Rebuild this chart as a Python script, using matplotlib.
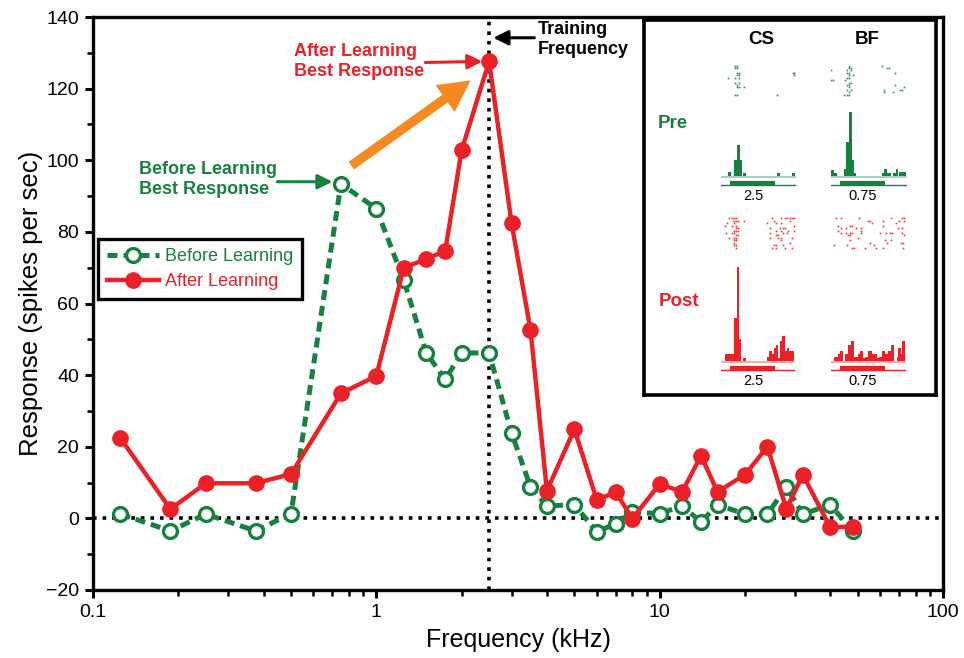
import matplotlib
matplotlib.use('Agg')
import matplotlib.pyplot as plt
from matplotlib.ticker import MultipleLocator, LogLocator, NullFormatter

plt.rcParams['font.family'] = ['Liberation Sans', 'DejaVu Sans']

# tuning curve data (kHz, spikes/s)
freq = [0.125, 0.1875, 0.25, 0.375, 0.5, 0.75, 1, 1.25, 1.5, 1.75, 2, 2.5, 3, 3.5,
        4, 5, 6, 7, 8, 10, 12, 14, 16, 20, 24, 28, 32, 40, 48]
before = [1.2, -3.5, 1.2, -3.5, 1.3, 93.4, 86.5, 66.5, 46.2, 38.8, 46.2, 46.2, 23.9, 8.8,
          3.5, 3.8, -3.7, -1.5, 1.8, 1.3, 3.5, -1, 3.8, 1.2, 1.2, 8.8, 1.2, 3.8, -3.5]
after = [22.4, 2.6, 9.8, 9.8, 12.4, 34.9, 39.8, 70.0, 72.4, 74.7, 102.8, 127.6, 82.5, 52.6,
         7.7, 24.9, 5.1, 7.4, -0.1, 9.6, 7.4, 17.5, 7.4, 12.2, 20.0, 2.6, 12.2, -2.5, -2.3]
training_freq = 2.5

# inset PSTHs (bin edges in time units, counts)
pre_cs_edges = [0, 2.0, 3.0, 4.0, 4.7, 5.6, 6.2, 6.6, 7.6, 16.7, 17.6, 21.3, 22.2]
pre_cs_counts = [0, 4, 0, 16, 31, 16, 0, 3, 0, 3, 0, 3]
pre_bf_edges = [0, 1.0, 1.7, 4.0, 4.5, 5.4, 6.2, 6.8, 7.5, 15.2, 15.9, 16.7, 18.0, 18.7,
                19.4, 20.1, 20.4, 22.5]
pre_bf_counts = [6, 3, 0, 7, 34, 64, 16, 3, 0, 3, 7, 3, 0, 3, 7, 0, 4]
post_cs_edges = [0, 1.2, 3.9, 4.7, 5.4, 6.0, 6.5, 7.5, 13.7, 14.4, 15.2, 15.8, 16.5, 17.2,
                 17.7, 18.4, 19.1, 19.7, 20.5, 21.9]
post_cs_counts = [0, 7, 43, 94, 22, 0, 3, 0, 4, 10, 7, 13, 16, 3, 20, 25, 10, 13, 10]
post_bf_edges = [0, 0.9, 2.0, 2.7, 3.7, 4.2, 5.2, 6.0, 7.0, 8.0, 8.7, 9.7, 10.2, 11.2, 12.2,
                 13.7, 14.4, 15.2, 16.2, 17.2, 18.0, 18.9, 19.7, 20.2, 21.0, 21.4, 22.2]
post_bf_counts = [0, 4, 7, 10, 0, 7, 16, 20, 4, 7, 10, 3, 4, 10, 7, 3, 4, 10, 7, 10, 16, 0,
                  4, 13, 7, 20]
stim_on, stim_off = 2.7, 16.2

# rasters (spike time, trial)
pre_cs_t = [4.2, 4.8, 4.2, 4.8, 4.8, 5.4, 4.8, 5.4, 2.2, 4.2, 5.4, 4.2, 5.4, 4.8, 4.8, 5.4,
            7.0, 4.2, 4.8, 16.7, 22.0, 21.6, 22.0]
pre_cs_trial = [1, 1, 2, 2, 4, 4, 5, 5, 6, 6, 6, 8, 8, 9, 10, 10, 10, 13, 13, 13, 4, 4, 5]
pre_bf_t = [5.4, 5.4, 6.0, 4.8, 6.0, 0.0, 4.8, 5.4, 6.6, 5.4, 4.8, 5.4, 0.0, 0.6, 4.2, 5.4,
            6.0, 4.8, 5.4, 5.4, 4.8, 6.0, 5.4, 4.0, 4.8, 5.4, 15.2, 16.8, 17.4, 19.2, 19.2,
            22.0, 15.8, 20.6, 21.2, 16.0, 18.7]
pre_bf_trial = [1, 2, 2, 3, 3, 3, 4, 4, 5, 5, 6, 6, 7, 7, 7, 8, 8, 9, 9, 10, 11, 11, 12, 13,
                13, 13, 1, 2, 2, 4, 9, 10, 11, 11, 11, 12, 12]
post_cs_t = [2.4, 3.4, 4.0, 4.6, 4.0, 4.6, 5.2, 6.8, 1.8, 4.0, 1.2, 3.4, 4.6, 4.6, 5.2, 4.0,
             4.6, 5.2, 1.4, 3.4, 4.0, 4.6, 5.2, 4.0, 2.4, 4.6, 4.0, 4.6, 4.0, 4.6, 4.0, 4.6,
             15.4, 17.9, 19.2, 19.7, 20.7, 21.4, 22.0, 13.8, 15.8, 16.4, 17.9, 20.8, 21.8,
             18.7, 19.2, 17.8, 14.8, 16.4, 18.0, 20.2, 22.0, 14.7, 16.5, 17.2, 18.6, 19.9,
             18.0, 21.4, 14.8, 17.2, 17.9, 20.7, 16.4, 15.8, 15.4, 16.4, 18.6, 19.2, 21.4]
post_cs_trial = [0, 0, 0, 0, 1, 1, 1, 1, 2, 2, 3, 3, 3, 4, 4, 5, 5, 5, 6, 6, 6, 7, 7, 8, 8, 8,
                 9, 9, 10, 11, 11, 12,
                 0, 0, 0, 0, 0, 0, 0, 2, 1, 2, 2, 1, 3, 4, 4, 4, 4, 5, 5, 5, 5, 6, 7, 7, 6, 6,
                 8, 8, 8, 8, 9, 10, 11, 11, 12, 12, 11, 12, 12]
post_bf_t = [1.6, 3.0, 8.4, 2.2, 3.0, 4.4, 5.8, 6.4, 7.6, 9.0, 11.0, 11.6, 12.2, 15.6, 15.6,
             18.0, 19.4, 20.4, 21.4, 22.0, 22.0, 20.2, 21.4, 2.2, 3.0, 4.4, 5.8, 6.4, 5.0,
             5.8, 9.0, 9.0, 14.6, 16.4, 17.8, 18.2, 21.4, 22.0, 5.8, 8.2, 16.2, 16.8, 18.0,
             21.0, 21.6, 1.0, 4.8, 6.4, 7.0, 10.2, 11.8, 13.0, 13.6, 15.6, 21.6]
post_bf_trial = [0, 0, 0, 3, 4, 4, 3, 3, 4, 4, 1, 1, 2, 1, 3, 0, 2, 1, 0, 0, 1, 4, 4, 5, 6, 6,
                 6, 6, 7, 7, 5, 6, 6, 6, 6, 6, 6, 7, 9, 8, 9, 10, 9, 10, 10, 11, 11, 12, 12,
                 12, 10, 11, 12, 12, 12]

green = '#17823F'
red = '#EC2127'
orange = '#F6891F'
W, H = 964, 658


def px_rect(x0, y0, x1, y1):
    return [x0 / W, 1 - y1 / H, (x1 - x0) / W, (y1 - y0) / H]


fig = plt.figure(figsize=(W / 100, H / 100), dpi=100)
ax = fig.add_axes(px_rect(93, 17, 943, 590))

ax.axhline(0, color='k', ls=':', lw=2.6, zorder=1)
ax.axvline(training_freq, color='k', ls=':', lw=2.6, zorder=1)

ax.plot(freq, before, color=green, lw=3.6, dashes=(2, 1.2), marker='o', ms=10,
        mfc='white', mec=green, mew=2.4, label='Before Learning', zorder=3)
ax.plot(freq, after, color=red, lw=3.2, marker='o', ms=11, mfc=red, mec=red,
        label='After Learning', zorder=4)

ax.set_xscale('log')
ax.set_xlim(0.1, 100)
ax.set_ylim(-20, 140)
ax.set_xticks([0.1, 1, 10, 100], ['0.1', '1', '10', '100'])
ax.xaxis.set_minor_locator(LogLocator(base=10, subs=range(2, 10)))
ax.xaxis.set_minor_formatter(NullFormatter())
ax.yaxis.set_major_locator(MultipleLocator(20))
ax.yaxis.set_minor_locator(MultipleLocator(10))
ax.tick_params(which='major', direction='out', length=6, width=2.2, labelsize=14, pad=4)
ax.tick_params(which='minor', direction='out', length=4, width=1.8)
for s in ax.spines.values():
    s.set_linewidth(2.4)
ax.set_xlabel('Frequency (kHz)', fontsize=18, labelpad=5)
ax.set_ylabel('Response (spikes per sec)', fontsize=18.5, labelpad=2)

# annotations
ax.text(0.1457, 94.7, 'Before Learning\nBest Response', color=green, fontsize=13,
        fontweight='bold', ha='left', va='center')
ax.annotate('', xy=(0.70, 94.0), xytext=(0.447, 94.0),
            arrowprops=dict(arrowstyle='-|>', color=green, lw=2.2, mutation_scale=22,
                            shrinkA=0, shrinkB=0))
ax.text(0.5135, 127.5, 'After Learning\nBest Response', color=red, fontsize=13,
        fontweight='bold', ha='left', va='center')
ax.annotate('', xy=(2.367, 127.6), xytext=(1.489, 127.3),
            arrowprops=dict(arrowstyle='-|>', color=red, lw=2.2, mutation_scale=22,
                            shrinkA=0, shrinkB=0))
ax.text(3.70, 133.7, 'Training\nFrequency', color='k', fontsize=13,
        fontweight='bold', ha='left', va='center')
ax.annotate('', xy=(2.588, 134.2), xytext=(3.612, 134.2),
            arrowprops=dict(arrowstyle='-|>', color='k', lw=2.2, mutation_scale=22,
                            shrinkA=0, shrinkB=0))
ax.annotate('', xy=(2.15, 122.3), xytext=(0.816, 98.5),
            arrowprops=dict(arrowstyle='simple,head_length=0.9,head_width=0.95,tail_width=0.27',
                            color=orange, lw=0, mutation_scale=25, shrinkA=0, shrinkB=0))

leg = ax.legend(loc='upper left', bbox_to_anchor=(98 / W, 1 - 239 / H),
                bbox_transform=fig.transFigure, borderaxespad=0, fontsize=13,
                frameon=True, fancybox=False, framealpha=1, edgecolor='k',
                handlelength=2.9, handletextpad=0.3, labelcolor='linecolor',
                borderpad=0.5, labelspacing=0.45)
leg.get_frame().set_linewidth(2.4)

# inset
box = fig.add_axes(px_rect(644, 20, 936, 395))
box.set_xticks([])
box.set_yticks([])
for s in box.spines.values():
    s.set_linewidth(2.6)

fig.text(761 / W, 1 - 40 / H, 'CS', fontsize=13.5, fontweight='bold', ha='center', va='center')
fig.text(867 / W, 1 - 40 / H, 'BF', fontsize=13.5, fontweight='bold', ha='center', va='center')
fig.text(658 / W, 1 - 124 / H, 'Pre', fontsize=13.5, fontweight='bold', color=green,
         ha='left', va='center')
fig.text(659 / W, 1 - 302 / H, 'Post', fontsize=13.5, fontweight='bold', color=red,
         ha='left', va='center')

panels = [
    (721, 176, 62, 96, 13.5, pre_cs_edges, pre_cs_counts, pre_cs_t, pre_cs_trial, green, '2.5'),
    (831, 176, 62, 96, 13.5, pre_bf_edges, pre_bf_counts, pre_bf_t, pre_bf_trial, green, '0.75'),
    (721, 361, 217, 249, 12.5, post_cs_edges, post_cs_counts, post_cs_t, post_cs_trial, red, '2.5'),
    (831, 361, 217, 249, 12.5, post_bf_edges, post_bf_counts, post_bf_t, post_bf_trial, red, '0.75'),
]
for x0, base, r0, r1, nt, edges, counts, ts, trials, col, lab in panels:
    hax = fig.add_axes(px_rect(x0, base - 100, x0 + 75.7, base + 12))
    hax.stairs(counts, edges, fill=True, color=col, lw=0)
    hax.plot([0, edges[-1]], [-1, -1], color=col, lw=1.2, alpha=0.45)
    hax.plot([0, edges[-1]], [-9, -9], color=col, lw=1.0)
    hax.plot([stim_on, stim_off], [-7, -7], color=col, lw=3.0, solid_capstyle='butt')
    hax.set_xlim(0, 22.7)
    hax.set_ylim(-12, 100)
    hax.axis('off')
    rax = fig.add_axes(px_rect(x0, r0, x0 + 75.7, r1))
    rax.plot(ts, trials, 's', ms=1.2, color=col, mew=0, alpha=0.9)
    rax.set_xlim(0, 22.7)
    rax.set_ylim(nt, -0.5)
    rax.axis('off')
    fig.text((x0 + 32) / W, 1 - (base + 20) / H, lab, fontsize=10.5, ha='center', va='center')

fig.savefig('out.png', dpi=100)
